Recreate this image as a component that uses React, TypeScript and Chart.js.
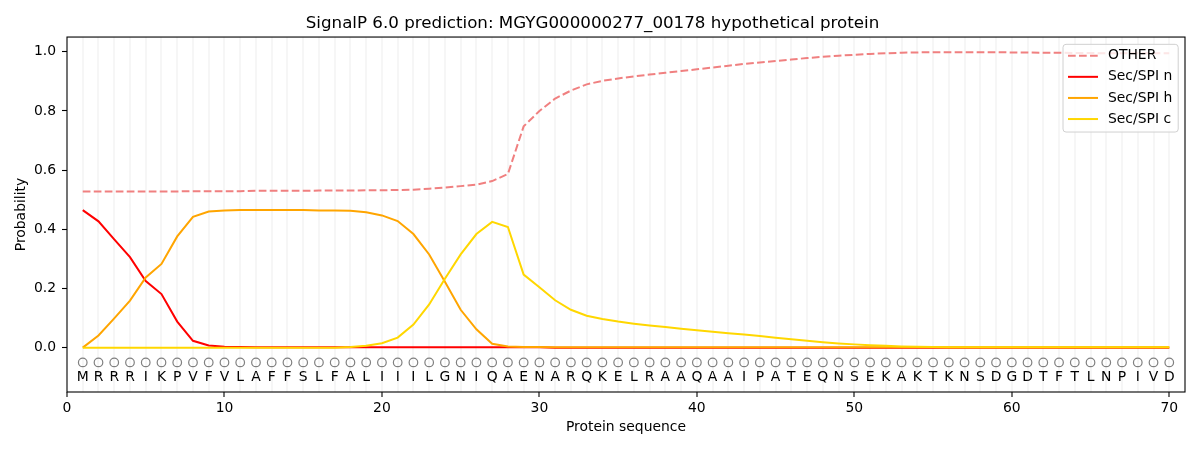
import React, { useEffect, useRef } from 'react';
import { Chart, registerables } from 'chart.js';

Chart.register(...registerables);

const residues = [
  'M', 'R', 'R', 'R', 'I', 'K', 'P', 'V', 'F', 'V',
  'L', 'A', 'F', 'F', 'S', 'L', 'F', 'A', 'L', 'I',
  'I', 'I', 'L', 'G', 'N', 'I', 'Q', 'A', 'E', 'N',
  'A', 'R', 'Q', 'K', 'E', 'L', 'R', 'A', 'A', 'Q',
  'A', 'A', 'I', 'P', 'A', 'T', 'E', 'Q', 'N', 'S',
  'E', 'K', 'A', 'K', 'T', 'K', 'N', 'S', 'D', 'G',
  'D', 'T', 'F', 'T', 'L', 'N', 'P', 'I', 'V', 'D',
];
const positions = residues.map((_, i) => i + 1);

const otherProb = [
  0.528, 0.528, 0.528, 0.528, 0.528, 0.528, 0.528, 0.529, 0.529, 0.529,
  0.529, 0.530, 0.530, 0.530, 0.530, 0.531, 0.531, 0.531, 0.532, 0.532,
  0.533, 0.534, 0.537, 0.541, 0.546, 0.551, 0.563, 0.587, 0.748, 0.800,
  0.842, 0.869, 0.890, 0.902, 0.910, 0.917, 0.923, 0.929, 0.935, 0.941,
  0.947, 0.953, 0.959, 0.964, 0.969, 0.974, 0.979, 0.983, 0.987, 0.990,
  0.993, 0.995, 0.997, 0.998, 0.999, 0.999, 0.999, 0.999, 0.999, 0.998,
  0.998, 0.997, 0.997, 0.996, 0.996, 0.995, 0.995, 0.995, 0.995, 0.995,
];
const secN = [
  0.465, 0.427, 0.366, 0.306, 0.225, 0.181, 0.088, 0.023, 0.007, 0.003,
  0.002, 0.001, 0.001, 0.001, 0.001, 0.001, 0.001, 0.001, 0.001, 0.001,
  0.001, 0.001, 0.001, 0.001, 0.001, 0.001, 0.001, 0.001, 0.001, 0.001,
  0, 0, 0, 0, 0, 0, 0, 0, 0, 0,
  0, 0, 0, 0, 0, 0, 0, 0, 0, 0,
  0, 0, 0, 0, 0, 0, 0, 0, 0, 0,
  0, 0, 0, 0, 0, 0, 0, 0, 0, 0,
];
const secH = [
  0.000, 0.041, 0.099, 0.159, 0.237, 0.283, 0.376, 0.442, 0.460, 0.464,
  0.465, 0.465, 0.465, 0.465, 0.465, 0.464, 0.464, 0.463, 0.458, 0.447,
  0.428, 0.384, 0.315, 0.223, 0.128, 0.062, 0.013, 0.004, 0.002, 0.002,
  0.001, 0.001, 0.001, 0.001, 0.001, 0.001, 0.001, 0.001, 0.001, 0.001,
  0.001, 0.001, 0.001, 0.001, 0.001, 0.001, 0.001, 0.001, 0.001, 0.001,
  0.001, 0.001, 0.001, 0.001, 0.001, 0.001, 0.001, 0.001, 0.001, 0.001,
  0.001, 0.001, 0.001, 0.001, 0.001, 0.001, 0.001, 0.001, 0.001, 0.001,
];
const secC = [
  0, 0, 0, 0, 0, 0, 0, 0, 0, 0,
  0, 0, 0, 0, 0, 0, 0, 0.002, 0.006, 0.015,
  0.034, 0.078, 0.146, 0.233, 0.315, 0.384, 0.425, 0.408, 0.247, 0.204,
  0.160, 0.128, 0.108, 0.097, 0.088, 0.081, 0.075, 0.070, 0.064, 0.059,
  0.054, 0.049, 0.044, 0.039, 0.033, 0.028, 0.023, 0.018, 0.014, 0.011,
  0.008, 0.006, 0.004, 0.003, 0.002, 0.001, 0.001, 0.001, 0.001, 0.001,
  0.001, 0.001, 0.001, 0.001, 0.001, 0.001, 0.001, 0.001, 0.001, 0.001,
];

const seriesLabels = ['OTHER', 'Sec/SPI n', 'Sec/SPI h', 'Sec/SPI c'];
const yTicks = [0, 0.2, 0.4, 0.6, 0.8, 1.0];
const markerY = -0.05;
const letterY = -0.1;

const FONT = '"DejaVu Sans", sans-serif';

const toPoints = (vals: number[]) => vals.map((v, i) => ({ x: positions[i], y: v }));

// black frame round the whole plot area
const framePlugin = {
  id: 'frame',
  afterDraw(chart: any) {
    const { ctx, chartArea: a } = chart;
    ctx.save();
    ctx.strokeStyle = '#000';
    ctx.lineWidth = 1.1;
    ctx.strokeRect(a.left, a.top, a.right - a.left, a.bottom - a.top);
    ctx.restore();
  },
};

// amino acid letters under the circles
const residuePlugin = {
  id: 'residues',
  afterDatasetsDraw(chart: any) {
    const { ctx, scales } = chart;
    ctx.save();
    ctx.font = `13.9px ${FONT}`;
    ctx.fillStyle = '#000';
    ctx.textAlign = 'center';
    ctx.textBaseline = 'middle';
    const y = scales.y.getPixelForValue(letterY);
    residues.forEach((r, i) => {
      ctx.fillText(r, scales.x.getPixelForValue(positions[i]), y);
    });
    ctx.restore();
  },
};

// matplotlib-like legend inside the upper right corner
const legendPlugin = {
  id: 'innerLegend',
  afterDraw(chart: any) {
    const { ctx, chartArea: a } = chart;
    const sets = chart.data.datasets.slice(0, seriesLabels.length);
    ctx.save();
    ctx.font = `13.9px ${FONT}`;
    const textW = Math.max(...sets.map((d: any) => ctx.measureText(d.label).width));
    const w = 5 + 30 + 10 + textW + 6;
    const rowH = 21.1;
    const h = 11.4 + rowH * (sets.length - 1) + 13;
    const x0 = a.right - 6.8 - w;
    const y0 = a.top + 7.3;
    ctx.beginPath();
    ctx.roundRect(x0, y0, w, h, 3);
    ctx.fillStyle = 'rgba(255,255,255,0.8)';
    ctx.fill();
    ctx.strokeStyle = '#d0d0d0';
    ctx.lineWidth = 1;
    ctx.stroke();
    sets.forEach((d: any, i: number) => {
      const y = y0 + 11.4 + i * rowH;
      ctx.beginPath();
      ctx.setLineDash(d.borderDash || []);
      ctx.strokeStyle = d.borderColor;
      ctx.lineWidth = d.borderWidth;
      ctx.moveTo(x0 + 5, y);
      ctx.lineTo(x0 + 35, y);
      ctx.stroke();
      ctx.setLineDash([]);
      ctx.fillStyle = '#000';
      ctx.textAlign = 'left';
      ctx.textBaseline = 'middle';
      ctx.fillText(d.label, x0 + 45, y);
    });
    ctx.restore();
  },
};

const App: React.FC = () => {
  const canvasRef = useRef<HTMLCanvasElement>(null);
  const chartRef = useRef<Chart | null>(null);

  useEffect(() => {
    document.body.style.margin = '0';
    if (!canvasRef.current) return;
    if (chartRef.current) chartRef.current.destroy();

    Chart.defaults.font.family = FONT;
    Chart.defaults.color = '#000';

    chartRef.current = new Chart(canvasRef.current, {
      type: 'line',
      data: {
        datasets: [
          {
            label: seriesLabels[0],
            data: toPoints(otherProb),
            borderColor: '#f08080',
            borderDash: [7.7, 3.3],
            borderWidth: 2,
            pointRadius: 0,
            order: 4,
          },
          {
            label: seriesLabels[1],
            data: toPoints(secN),
            borderColor: '#ff0000',
            borderWidth: 2,
            pointRadius: 0,
            order: 3,
          },
          {
            label: seriesLabels[2],
            data: toPoints(secH),
            borderColor: '#ffa500',
            borderWidth: 2,
            pointRadius: 0,
            order: 2,
          },
          {
            label: seriesLabels[3],
            data: toPoints(secC),
            borderColor: '#ffd700',
            borderWidth: 2,
            pointRadius: 0,
            order: 1,
          },
          {
            label: 'residues',
            data: positions.map((p) => ({ x: p, y: markerY })),
            showLine: false,
            pointRadius: 4.3,
            pointBorderWidth: 1.2,
            pointBorderColor: '#808080',
            pointBackgroundColor: 'rgba(0,0,0,0)',
            order: 0,
          },
        ],
      },
      options: {
        animation: false,
        responsive: false,
        layout: { padding: { top: 0, left: 0, right: 15, bottom: 0 } },
        plugins: {
          legend: { display: false },
          tooltip: { enabled: false },
          title: {
            display: true,
            text: 'SignalP 6.0 prediction: MGYG000000277_00178 hypothetical protein',
            color: '#000',
            font: { size: 16.7, weight: 'normal', family: FONT },
            padding: { top: 13.5, bottom: 3.5 },
          },
        },
        scales: {
          x: {
            type: 'linear',
            min: 0,
            max: 71,
            afterFit: (scale: any) => {
              scale.height = 58;
            },
            ticks: {
              stepSize: 1,
              autoSkip: false,
              maxRotation: 0,
              padding: 3,
              color: '#000',
              font: { size: 13.9, family: FONT },
              callback: (v: any) => (Number(v) % 10 === 0 && Number(v) <= 70 ? String(v) : ''),
            },
            grid: {
              drawOnChartArea: true,
              color: (c: any) => (c.tick && c.tick.value >= 1 && c.tick.value <= 70 ? '#f6f6f6' : 'rgba(0,0,0,0)'),
              lineWidth: 2,
              tickLength: 5,
              tickWidth: 1.1,
              tickColor: (c: any) => (c.tick && c.tick.value % 10 === 0 && c.tick.value <= 70 ? '#000' : 'rgba(0,0,0,0)'),
            },
            border: { display: false },
            title: {
              display: true,
              text: 'Protein sequence',
              color: '#000',
              font: { size: 13.9, family: FONT },
              padding: { top: 0, bottom: 14.7 },
            },
          },
          y: {
            type: 'linear',
            min: -0.15,
            max: 1.05,
            afterFit: (scale: any) => {
              scale.width = 67;
            },
            afterBuildTicks: (scale: any) => {
              scale.ticks = yTicks.map((v) => ({ value: v }));
            },
            ticks: {
              padding: 6,
              color: '#000',
              font: { size: 13.9, family: FONT },
              callback: (v: any) => Number(v).toFixed(1),
            },
            grid: {
              drawOnChartArea: false,
              tickLength: 5,
              tickWidth: 1.1,
              tickColor: '#000',
            },
            border: { display: false },
            title: {
              display: true,
              text: 'Probability',
              color: '#000',
              font: { size: 13.9, family: FONT },
              padding: { top: 12.7, bottom: 0 },
            },
          },
        },
      },
      plugins: [framePlugin, residuePlugin, legendPlugin],
    } as any);

    return () => {
      if (chartRef.current) {
        chartRef.current.destroy();
        chartRef.current = null;
      }
    };
  }, []);

  return (
    <div style={{ width: 1200, height: 450, background: '#fff' }}>
      <canvas ref={canvasRef} width={1200} height={450}></canvas>
    </div>
  );
};

export default App;
